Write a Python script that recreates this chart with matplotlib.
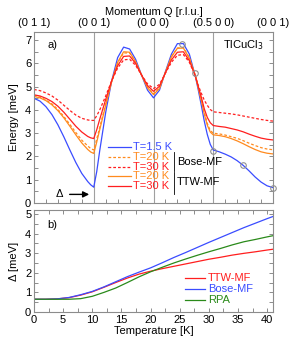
import matplotlib
matplotlib.use('Agg')
import matplotlib.pyplot as plt
from matplotlib.ticker import MultipleLocator

plt.rcParams['font.family'] = ['Liberation Sans', 'DejaVu Sans']
plt.rcParams['font.size'] = 8

# ---- panel a: dispersion along the momentum path ----
q = [0, 0.1, 0.2, 0.3, 0.4, 0.5, 0.6, 0.7, 0.8, 0.9, 0.95, 1.0, 1.05, 1.1, 1.2, 1.3,
     1.4, 1.5, 1.6, 1.7, 1.8, 1.9, 2.0, 2.1, 2.2, 2.3, 2.4, 2.5, 2.6, 2.7, 2.75, 2.8,
     2.85, 2.9, 2.95, 3.0, 3.1, 3.2, 3.3, 3.4, 3.5, 3.6, 3.7, 3.8, 3.9, 4.0]
q_labels = ['(0 1 1)', '(0 0 1)', '(0 0 0)', '(0.5 0 0)', '(0 0 1)']

E_1p5K = [4.50, 4.38, 4.14, 3.80, 3.36, 2.84, 2.28, 1.74, 1.27, 0.92, 0.78, 0.68, 1.35, 2.25,
          3.90, 5.25, 6.25, 6.70, 6.62, 6.18, 5.50, 4.85, 4.52, 4.85, 5.65, 6.40, 6.85, 6.85,
          6.40, 5.45, 4.85, 4.20, 3.52, 2.95, 2.52, 2.28, 2.20, 2.10, 1.98, 1.82, 1.62, 1.38,
          1.12, 0.90, 0.74, 0.66]
E_bose_20K = [4.63, 4.55, 4.43, 4.26, 4.02, 3.72, 3.38, 3.03, 2.70, 2.45, 2.34, 2.28, 2.75, 3.25,
              4.25, 5.22, 6.02, 6.45, 6.45, 6.05, 5.50, 4.98, 4.70, 4.95, 5.62, 6.28, 6.66, 6.68,
              6.25, 5.48, 4.98, 4.45, 3.90, 3.42, 3.12, 3.00, 2.97, 2.92, 2.85, 2.78, 2.68, 2.57,
              2.47, 2.38, 2.32, 2.29]
E_bose_30K = [4.88, 4.83, 4.73, 4.60, 4.42, 4.20, 3.98, 3.78, 3.64, 3.57, 3.55, 3.55, 3.75, 4.00,
              4.60, 5.25, 5.80, 6.15, 6.18, 5.92, 5.50, 5.12, 4.92, 5.10, 5.58, 6.05, 6.35, 6.38,
              6.05, 5.45, 5.05, 4.72, 4.42, 4.20, 4.02, 3.92, 3.89, 3.86, 3.83, 3.79, 3.74, 3.69,
              3.64, 3.59, 3.55, 3.52]
E_ttw_20K = [4.58, 4.52, 4.40, 4.22, 3.97, 3.66, 3.30, 2.93, 2.58, 2.30, 2.19, 2.13, 2.62, 3.15,
             4.20, 5.22, 6.05, 6.50, 6.48, 6.08, 5.50, 4.95, 4.66, 4.92, 5.62, 6.28, 6.65, 6.66,
             6.22, 5.47, 4.95, 4.40, 3.82, 3.35, 3.05, 2.93, 2.90, 2.85, 2.77, 2.67, 2.55, 2.42,
             2.30, 2.20, 2.14, 2.11]
E_ttw_30K = [4.65, 4.60, 4.50, 4.36, 4.16, 3.90, 3.60, 3.30, 3.05, 2.86, 2.80, 2.77, 3.15, 3.60,
             4.45, 5.25, 5.90, 6.30, 6.32, 6.00, 5.50, 5.05, 4.80, 5.02, 5.60, 6.15, 6.48, 6.50,
             6.12, 5.46, 5.00, 4.55, 4.05, 3.68, 3.45, 3.33, 3.29, 3.26, 3.20, 3.14, 3.06, 2.96,
             2.87, 2.79, 2.74, 2.71]

# measured points (open circles)
q_exp = [2.48, 2.69, 3.0, 3.5, 4.0]
E_exp = [6.84, 5.57, 2.25, 1.64, 0.65]

# ---- panel b: gap vs temperature ----
T = [0, 2, 4, 6, 8, 10, 12, 14, 16, 18, 20, 22, 24, 26, 28, 30, 32, 34, 36, 38, 40, 41]
gap_ttw = [0.65, 0.65, 0.67, 0.73, 0.86, 1.03, 1.26, 1.50, 1.73, 1.93, 2.08, 2.21, 2.33, 2.45,
           2.57, 2.69, 2.79, 2.90, 2.99, 3.07, 3.16, 3.20]
gap_bose = [0.65, 0.65, 0.67, 0.74, 0.88, 1.05, 1.28, 1.54, 1.80, 2.03, 2.25, 2.51, 2.78, 3.03,
            3.29, 3.55, 3.80, 4.05, 4.30, 4.53, 4.76, 4.87]
gap_rpa = [0.65, 0.65, 0.65, 0.65, 0.68, 0.80, 1.00, 1.22, 1.50, 1.79, 2.05, 2.28, 2.50, 2.70,
           2.89, 3.07, 3.24, 3.42, 3.58, 3.70, 3.83, 3.89]

blue = '#3a4cff'
orange = '#ff8a1e'
red = '#ff1e1e'
green = '#2a8a1a'
frame = '#8c8c8c'
lw = 0.9
dash = (0, (2.2, 1.6))

fig = plt.figure(figsize=(2.91, 3.46), dpi=100)
ax1 = fig.add_axes([34 / 291, 143 / 346, 239 / 291, 171 / 346])
ax2 = fig.add_axes([34 / 291, 34 / 346, 239 / 291, 102 / 346])

for ax in (ax1, ax2):
    for s in ax.spines.values():
        s.set_color(frame)
        s.set_linewidth(0.8)
    ax.tick_params(which='both', direction='in', color=frame, width=0.7, length=3,
                   labelsize=8, pad=2)

# panel a
for xv in [1, 2, 3]:
    ax1.axvline(xv, color='#a0a0a0', lw=0.8, zorder=1)

ax1.plot(q, E_1p5K, color=blue, lw=lw)
ax1.plot(q, E_bose_20K, color=orange, lw=lw, ls=dash)
ax1.plot(q, E_bose_30K, color=red, lw=lw, ls=dash)
ax1.plot(q, E_ttw_20K, color=orange, lw=lw)
ax1.plot(q, E_ttw_30K, color=red, lw=lw)
ax1.plot(q_exp, E_exp, 'o', mfc='none', mec='#909090', ms=4, mew=0.8, clip_on=False, zorder=5)

ax1.set_xlim(0, 4)
ax1.set_ylim(0, 7.35)
ax1.set_xticks(range(5))
ax1.set_xticklabels(q_labels)
ax1.xaxis.set_minor_locator(MultipleLocator(0.2))
ax1.yaxis.set_major_locator(MultipleLocator(1))
ax1.yaxis.set_minor_locator(MultipleLocator(0.5))
ax1.tick_params(axis='x', which='major', bottom=False, top=False, labelbottom=False,
                labeltop=True, pad=3)
ax1.tick_params(axis='x', which='minor', bottom=True, top=False)
ax1.tick_params(axis='y', which='both', left=True, right=True)
ax1.xaxis.set_label_position('top')
ax1.set_xlabel('Momentum Q [r.l.u.]', fontsize=8, labelpad=2)
ax1.set_ylabel('Energy [meV]', fontsize=8, labelpad=4)

ax1.text(0.055, 0.925, 'a)', transform=ax1.transAxes, fontsize=8, va='center')
ax1.text(0.79, 0.925, 'TlCuCl$_3$', transform=ax1.transAxes, fontsize=8, va='center')
ax1.annotate('', xy=(0.97, 0.37), xytext=(0.55, 0.37),
             arrowprops=dict(arrowstyle='-|>', color='black', lw=1.0, mutation_scale=9))
ax1.text(0.42, 0.37, 'Δ', fontsize=8, ha='center', va='center')

# hand-made legend of panel a
leg = [(blue, '-', 'T=1.5 K', 0.327), (orange, dash, 'T=20 K', 0.269),
       (red, dash, 'T=30 K', 0.213), (orange, '-', 'T=20 K', 0.155),
       (red, '-', 'T=30 K', 0.099)]
for c, ls, lab, yy in leg:
    ax1.plot([0.31, 0.405], [yy, yy], color=c, ls=ls, lw=lw, transform=ax1.transAxes)
    ax1.text(0.414, yy, lab, color=c, transform=ax1.transAxes, fontsize=8, va='center')
ax1.plot([0.585, 0.585], [0.300, 0.190], color='black', lw=0.6, transform=ax1.transAxes)
ax1.plot([0.585, 0.585], [0.180, 0.055], color='black', lw=0.6, transform=ax1.transAxes)
ax1.text(0.597, 0.240, 'Bose-MF', transform=ax1.transAxes, fontsize=8, va='center')
ax1.text(0.597, 0.120, 'TTW-MF', transform=ax1.transAxes, fontsize=8, va='center')

# panel b
ax2.plot(T, gap_ttw, color=red, lw=lw, label='TTW-MF')
ax2.plot(T, gap_bose, color=blue, lw=lw, label='Bose-MF')
ax2.plot(T, gap_rpa, color=green, lw=lw, label='RPA')
ax2.set_xlim(0, 41)
ax2.set_ylim(0, 5.2)
ax2.xaxis.set_major_locator(MultipleLocator(5))
ax2.xaxis.set_minor_locator(MultipleLocator(2.5))
ax2.yaxis.set_major_locator(MultipleLocator(1))
ax2.yaxis.set_minor_locator(MultipleLocator(0.5))
ax2.tick_params(which='both', top=True, right=True)
ax2.set_xlabel('Temperature [K]', fontsize=8, labelpad=1)
ax2.set_ylabel('Δ [meV]', fontsize=8, labelpad=4)
ax2.text(0.055, 0.85, 'b)', transform=ax2.transAxes, fontsize=8, va='center')

legb = [(red, 'TTW-MF', 0.333), (blue, 'Bose-MF', 0.222), (green, 'RPA', 0.121)]
for c, lab, yy in legb:
    ax2.plot([0.631, 0.714], [yy, yy], color=c, lw=lw, transform=ax2.transAxes)
    ax2.text(0.728, yy, lab, color=c, transform=ax2.transAxes, fontsize=8, va='center')

fig.savefig('out.png', dpi=100)
